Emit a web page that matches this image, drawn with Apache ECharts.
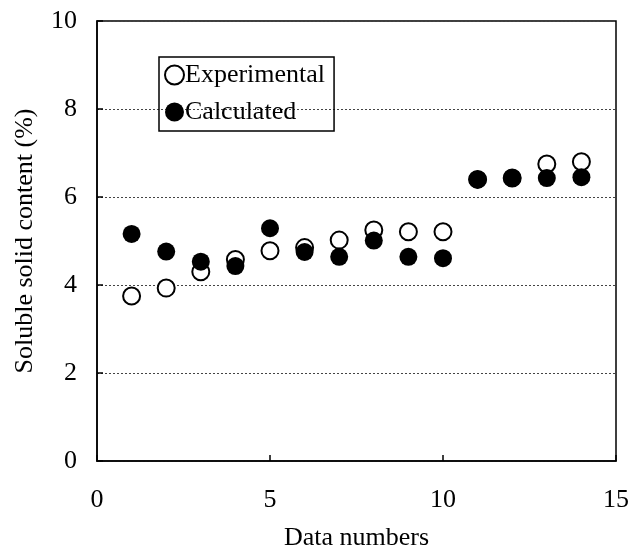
<!DOCTYPE html>
<html>
<head>
<meta charset="utf-8">
<script src="https://cdn.jsdelivr.net/npm/echarts@6/dist/echarts.min.js"></script>
<style>
  html, body { margin: 0; padding: 0; background: #fff; }
  #main { width: 632px; height: 552px; }
</style>
</head>
<body>
<div id="main"></div>
<script>
var dataNumbers = [1, 2, 3, 4, 5, 6, 7, 8, 9, 10, 11, 12, 13, 14];
var experimental = [3.75, 3.93, 4.30, 4.58, 4.78, 4.85, 5.02, 5.25, 5.21, 5.21, 6.40, 6.43, 6.75, 6.80];
var calculated = [5.16, 4.76, 4.53, 4.43, 5.29, 4.75, 4.64, 5.01, 4.64, 4.61, 6.40, 6.43, 6.43, 6.45];

var serif = '"Liberation Serif", "DejaVu Serif", serif';

function pairs(xs, ys) {
    var out = [];
    for (var i = 0; i < xs.length; i++) {
        out.push([xs[i], ys[i]]);
    }
    return out;
}

var myChart = echarts.init(document.getElementById('main'));
var option = {
    backgroundColor: '#FFFFFF',
    animation: false,
    grid: {
        left: 97,
        right: 16,
        top: 21,
        bottom: 91,
        outerBoundsMode: 'none',
        containLabel: false,
        show: true,
        borderColor: '#000',
        borderWidth: 1.5
    },
    legend: {
        orient: 'vertical',
        left: 159,
        top: 57,
        padding: [5, 9, 6, 5],
        itemGap: 11,
        itemWidth: 19,
        itemHeight: 19,
        borderColor: '#000',
        borderWidth: 1.5,
        textStyle: {
            fontFamily: serif,
            fontSize: 26,
            color: '#000',
            padding: [0, 0, 0, -4]
        },
        data: ['Experimental', 'Calculated']
    },
    xAxis: {
        type: 'value',
        min: 0,
        max: 15,
        interval: 5,
        name: 'Data numbers',
        nameLocation: 'middle',
        nameGap: 64,
        nameTextStyle: { fontFamily: serif, fontSize: 26, color: '#000' },
        axisLine: { show: true, lineStyle: { color: '#000', width: 1.5 } },
        axisTick: { show: true, inside: true, length: 6, lineStyle: { color: '#000', width: 1.5 } },
        axisLabel: { fontFamily: serif, fontSize: 26, color: '#000', margin: 26 },
        splitLine: { show: false }
    },
    yAxis: {
        type: 'value',
        min: 0,
        max: 10,
        interval: 2,
        name: 'Soluble solid content (%)',
        nameLocation: 'middle',
        nameGap: 59,
        nameTextStyle: { fontFamily: serif, fontSize: 26, color: '#000' },
        axisLine: { show: true, lineStyle: { color: '#000', width: 1.5 } },
        axisTick: { show: true, inside: true, length: 6, lineStyle: { color: '#000', width: 1.5 } },
        axisLabel: { fontFamily: serif, fontSize: 26, color: '#000', margin: 20 },
        splitLine: { show: true, lineStyle: { color: '#444', width: 1, type: [2, 2] } }
    },
    series: [
        {
            name: 'Experimental',
            type: 'scatter',
            symbol: 'circle',
            symbolSize: 17,
            itemStyle: { color: '#fff', borderColor: '#000', borderWidth: 2, opacity: 1 },
            data: pairs(dataNumbers, experimental)
        },
        {
            name: 'Calculated',
            type: 'scatter',
            symbol: 'circle',
            symbolSize: 18,
            itemStyle: { color: '#000', opacity: 1 },
            data: pairs(dataNumbers, calculated)
        }
    ]
};
myChart.setOption(option);
window.addEventListener("resize", function () {
    myChart.resize();
});
</script>
</body>
</html>
